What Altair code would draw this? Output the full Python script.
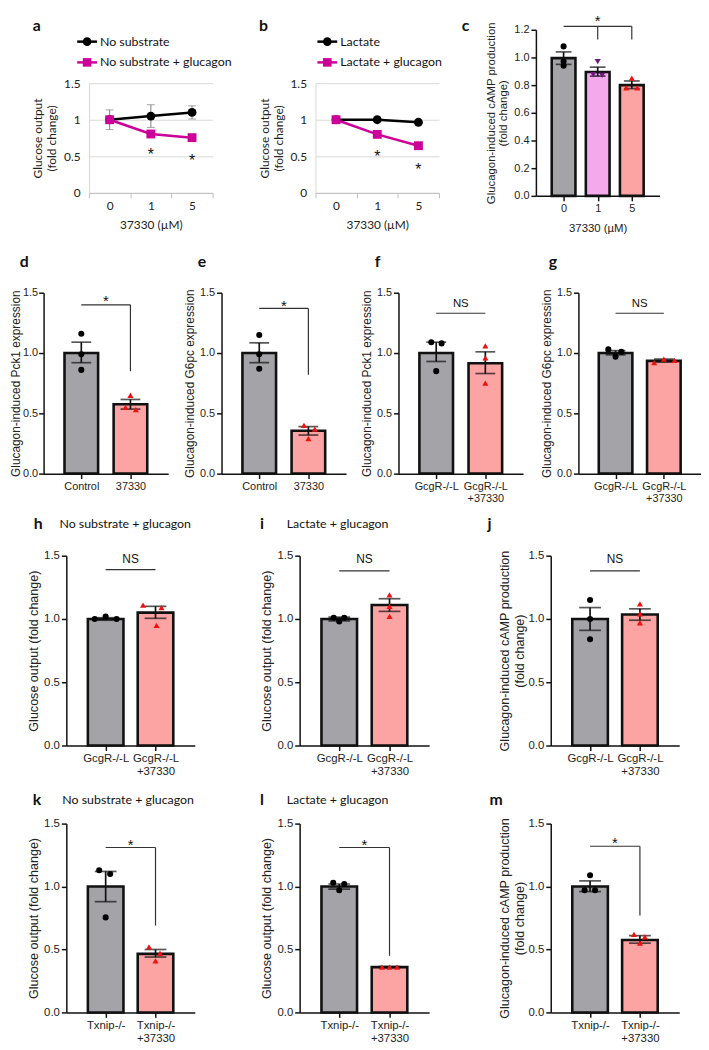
import altair as alt
import pandas as pd

ARIAL = "Liberation Sans"
CAL = "Lato"
BLACK = "#111111"
GRAY_BAR = "#a3a3a8"
SALMON = "#fca3a3"
PINK = "#f4a9ec"
RED = "#ee1111"
PURPLE = "#6b1a7b"
MAGENTA = "#cc0099"

# ---------------- data: line panels a, b ----------------
doses = ["0", "1", "5"]
a_series = ["No substrate", "No substrate + glucagon"]
a_mean_ctrl = [1.00, 1.05, 1.10]
a_err_ctrl = [0.135, 0.155, 0.09]
a_mean_glu = [1.00, 0.805, 0.755]
a_err_glu = [0.03, 0.035, 0.045]
a_star_dose = ["1", "5"]
a_star_y = [0.57, 0.49]

b_series = ["Lactate", "Lactate + glucagon"]
b_mean_ctrl = [1.00, 1.00, 0.965]
b_err_ctrl = [0.02, 0.015, 0.02]
b_mean_glu = [1.00, 0.80, 0.645]
b_err_glu = [0.02, 0.02, 0.02]
b_star_dose = ["1", "5"]
b_star_y = [0.55, 0.36]

# ---------------- data: bar panels ----------------
c_labels = [["0"], ["1"], ["5"]]
c_mean = [0.995, 0.895, 0.80]
c_lo = [0.95, 0.865, 0.775]
c_hi = [1.04, 0.93, 0.83]
c_pts = [[1.08, 0.97, 0.94], [0.97, 0.875, 0.87], [0.85, 0.78, 0.78]]
c_jit = [[0, 0, 0], [0, -0.13, 0.13], [0, -0.16, 0.16]]

ctl_labels = [["Control"], ["37330"]]
gcg_labels = [["GcgR-/-L"], ["GcgR-/-L", "+37330"]]
txn_labels = [["Txnip-/-"], ["Txnip-/-", "+37330"]]

d_mean = [1.00, 0.575]
d_lo = [0.92, 0.535]
d_hi = [1.09, 0.615]
d_pts = [[1.16, 0.99, 0.86], [0.65, 0.55, 0.53]]
d_jit = [[0, 0, 0], [0, -0.1, 0.11]]

e_mean = [1.00, 0.355]
e_lo = [0.92, 0.32]
e_hi = [1.085, 0.39]
e_pts = [[1.15, 0.99, 0.87], [0.40, 0.37, 0.29]]
e_jit = [[0, 0, 0], [-0.09, 0.13, 0]]

f_mean = [1.00, 0.915]
f_lo = [0.93, 0.83]
f_hi = [1.09, 1.01]
f_pts = [[1.09, 1.08, 0.85], [1.06, 0.96, 0.75]]
f_jit = [[-0.1, 0.11, 0], [0, 0, 0]]

g_mean = [1.00, 0.935]
g_lo = [0.985, 0.925]
g_hi = [1.02, 0.95]
g_pts = [[1.03, 1.01, 0.97], [0.92, 0.95, 0.94]]
g_jit = [[-0.15, 0.12, 0], [-0.2, 0, 0.22]]

h_mean = [1.00, 1.05]
h_lo = [0.99, 1.005]
h_hi = [1.01, 1.10]
h_pts = [[1.00, 1.02, 1.00], [1.11, 1.09, 0.95]]
h_jit = [[-0.22, 0, 0.22], [-0.25, 0.12, 0.02]]

i_mean = [1.00, 1.11]
i_lo = [0.985, 1.06]
i_hi = [1.015, 1.16]
i_pts = [[1.01, 1.01, 0.98], [1.19, 1.10, 1.02]]
i_jit = [[-0.11, 0.1, 0], [0, 0, 0]]

j_mean = [1.00, 1.035]
j_lo = [0.91, 0.99]
j_hi = [1.09, 1.08]
j_pts = [[1.15, 1.00, 0.84], [1.12, 1.04, 0.97]]
j_jit = [[0, 0, 0], [0, 0, 0]]

k_mean = [1.00, 0.465]
k_lo = [0.88, 0.44]
k_hi = [1.12, 0.50]
k_pts = [[1.13, 1.10, 0.755], [0.52, 0.47, 0.41]]
k_jit = [[-0.13, 0.09, 0], [-0.13, 0.09, 0]]

l_mean = [1.00, 0.36]
l_lo = [0.98, 0.355]
l_hi = [1.02, 0.365]
l_pts = [[1.03, 1.02, 0.97], [0.36, 0.36, 0.36]]
l_jit = [[-0.12, 0.1, 0], [-0.15, 0, 0.15]]

m_mean = [1.00, 0.575]
m_lo = [0.96, 0.55]
m_hi = [1.045, 0.61]
m_pts = [[1.09, 0.97, 0.97], [0.62, 0.60, 0.55]]
m_jit = [[0, -0.11, 0.1], [-0.12, 0.1, 0]]

ONE = pd.DataFrame({"k": [0]})


def text_at(txt, x, y, font=CAL, size=12, weight="normal", align="left"):
    return alt.Chart(ONE).mark_text(text=txt, font=font, fontSize=size, fontWeight=weight,
                                    align=align, baseline="middle", color=BLACK).encode(
        x=alt.value(x), y=alt.value(y))


def frame(w, h, L, R, T, B):
    # invisible rule fixing the panel's outer extent for the concat layout
    return alt.Chart(ONE).mark_rule(opacity=0).encode(
        x=alt.value(-L), x2=alt.value(w + R), y=alt.value(-T), y2=alt.value(h + B))


def line_panel(series, mean_c, err_c, mean_g, err_g, star_d, star_y, letter, letter_x, leg_x,
               ext, width=125, height=165, top=54):
    rows = []
    for nm, ms, es, col, shp in ((series[0], mean_c, err_c, "#000000", "circle"),
                                 (series[1], mean_g, err_g, MAGENTA, "square")):
        for d, m, e in zip(doses, ms, es):
            rows.append({"dose": d, "series": nm, "mean": m, "lo": m - e, "hi": m + e,
                         "col": col, "shp": shp})
    df = pd.DataFrame(rows)
    xs = alt.Scale(type="band", domain=doses, paddingInner=0, paddingOuter=0)
    xa = alt.Axis(title="37330 (µM)", labelAngle=0, tickBand="extent", domainColor="#bfbfbf",
                  tickColor="#bfbfbf", tickSize=5, labelFont=CAL, labelFontSize=12, labelColor="#222",
                  titleFont=CAL, titleFontSize=12, titleFontWeight="normal", titleColor="#222",
                  titlePadding=8, labelPadding=3, grid=False)
    ys = alt.Scale(domain=[0, 1.5], range=[height, top], nice=False, zero=True)
    ya = alt.Axis(values=[0, 0.5, 1, 1.5], format="~g", grid=True, gridColor="#d9d9d9",
                  domainColor="#d9d9d9", ticks=False, labelPadding=9, labelFont=CAL, labelFontSize=12,
                  labelColor="#222", title=["Glucose output", "(fold change)"], titleFont=CAL,
                  titleFontSize=12, titleFontWeight="normal", titleColor="#222", titlePadding=5,
                  titleLineHeight=14)
    X = alt.X("dose:N", scale=xs, axis=xa, sort=doses)

    def Y(f):
        return alt.Y(f, type="quantitative", scale=ys, axis=ya)

    err = alt.Chart(df).mark_rule(color="#7f7f7f", strokeWidth=1).encode(x=X, y=Y("lo"), y2=alt.Y2("hi"))
    cap1 = alt.Chart(df).mark_tick(orient="horizontal", size=8, thickness=1, color="#7f7f7f").encode(x=X, y=Y("lo"))
    cap2 = alt.Chart(df).mark_tick(orient="horizontal", size=8, thickness=1, color="#7f7f7f").encode(x=X, y=Y("hi"))
    line = alt.Chart(df).mark_line(strokeWidth=2.5).encode(
        x=X, y=Y("mean"), color=alt.Color("col:N", scale=None), detail="series:N")
    pts = alt.Chart(df).mark_point(filled=True, size=80, opacity=1).encode(
        x=X, y=Y("mean"), color=alt.Color("col:N", scale=None), shape=alt.Shape("shp:N", scale=None))
    sdf = pd.DataFrame({"dose": star_d, "y": star_y})
    stars = alt.Chart(sdf).mark_text(text="*", font=ARIAL, fontSize=16, baseline="middle", dy=4,
                                     color=BLACK).encode(x=X, y=Y("y"))
    layers = [frame(width, height, *ext), err, cap1, cap2, line, pts, stars]
    for idx, (nm, col, sh) in enumerate(zip(series, ["#000000", MAGENTA], ["circle", "square"])):
        ly = [12, 33][idx]
        layers.append(alt.Chart(ONE).mark_rule(color=col, strokeWidth=2.5).encode(
            x=alt.value(leg_x[0]), x2=alt.value(leg_x[1]), y=alt.value(ly)))
        layers.append(alt.Chart(ONE).mark_point(filled=True, shape=sh, size=75, color=col, opacity=1).encode(
            x=alt.value(leg_x[2]), y=alt.value(ly)))
        layers.append(text_at(nm, leg_x[3], ly, size=12.5))
    layers.append(text_at(letter, letter_x, -4, size=16, weight="bold"))
    return alt.layer(*layers).properties(width=width, height=height)


def bar_panel(labels, means, lo, hi, pts, jit, fills, shapes, pcolors, ytitle, ydom, yvals,
              width, height, barw, pad, hl, vl, tx, letter, letter_xy, ext, sub=None, sub_xy=None,
              xtitle=None, lab_fs=11.0, title_fs=12.0, title_pad=3, label_pad=2, title_lh=13, capw=20,
              xtitle_pad=8):
    n = len(means)
    bdf = pd.DataFrame({"pos": list(range(n)), "mean": means, "lo": lo, "hi": hi, "fill": fills})
    prow = []
    for gi in range(n):
        for v, jv in zip(pts[gi], jit[gi]):
            prow.append({"px": gi + jv, "val": v, "col": pcolors[gi], "shp": shapes[gi]})
    pdf = pd.DataFrame(prow)

    def lab(parts):
        if len(parts) == 1:
            return "'" + parts[0] + "'"
        return "[" + ",".join("'" + p + "'" for p in parts) + "]"

    expr = lab(labels[-1])
    for idx in range(n - 2, -1, -1):
        expr = f"datum.value == {idx} ? {lab(labels[idx])} : ({expr})"

    xs = alt.Scale(domain=[-pad, n - 1 + pad], nice=False, zero=False)
    xa = alt.Axis(values=list(range(n)), labelExpr=expr, grid=False, domainColor=BLACK, domainWidth=1.5,
                  tickColor=BLACK, tickWidth=1.5, tickSize=5, labelFont=ARIAL, labelFontSize=lab_fs,
                  labelColor="#222", labelPadding=2, labelAngle=0, labelLineHeight=lab_fs + 1.5,
                  labelFlush=False, labelOverlap=False,
                  titleFont=ARIAL, titleFontSize=11.5, titleFontWeight="normal", titleColor="#222",
                  titlePadding=xtitle_pad, title=xtitle)
    ys = alt.Scale(domain=ydom, nice=False, zero=True)
    ya = alt.Axis(values=yvals, format=".1f", title=ytitle, grid=False, domainColor=BLACK, domainWidth=1.5,
                  tickColor=BLACK, tickWidth=1.5, tickSize=5, labelFont=ARIAL, labelFontSize=lab_fs,
                  labelColor="#222", labelPadding=label_pad, titleFont=ARIAL, titleFontSize=title_fs,
                  titleFontWeight="normal", titleColor="#222", titlePadding=title_pad,
                  titleLineHeight=title_lh)

    def X(f):
        return alt.X(f, type="quantitative", scale=xs, axis=xa)

    def Y(f):
        return alt.Y(f, type="quantitative", scale=ys, axis=ya)

    bars = alt.Chart(bdf).mark_bar(size=barw, stroke=BLACK, strokeWidth=2.6, orient="vertical").encode(
        x=X("pos"), y=Y("mean"), fill=alt.Fill("fill:N", scale=None))
    err = alt.Chart(bdf).mark_rule(color=BLACK, strokeWidth=1.7).encode(x=X("pos"), y=Y("lo"), y2=alt.Y2("hi"))
    cap1 = alt.Chart(bdf).mark_tick(orient="horizontal", size=capw, thickness=1.7, color=BLACK).encode(
        x=X("pos"), y=Y("lo"))
    cap2 = alt.Chart(bdf).mark_tick(orient="horizontal", size=capw, thickness=1.7, color=BLACK).encode(
        x=X("pos"), y=Y("hi"))
    points = alt.Chart(pdf).mark_point(filled=True, size=38, opacity=1).encode(
        x=X("px"), y=Y("val"), shape=alt.Shape("shp:N", scale=None), color=alt.Color("col:N", scale=None))
    layers = [frame(width, height, *ext), bars, err, cap1, cap2, points]
    if hl:
        hdf = pd.DataFrame(hl, columns=["x0", "x1", "y"])
        layers.append(alt.Chart(hdf).mark_rule(color="#333333", strokeWidth=1.2).encode(
            x=X("x0"), x2=alt.X2("x1"), y=Y("y")))
    if vl:
        vdf = pd.DataFrame(vl, columns=["x", "y0", "y1"])
        layers.append(alt.Chart(vdf).mark_rule(color="#333333", strokeWidth=1.2).encode(
            x=X("x"), y=Y("y0"), y2=alt.Y2("y1")))
    for (tx_x, tx_y, t) in tx:
        tdf = pd.DataFrame({"x": [tx_x], "y": [tx_y]})
        if t == "*":
            layers.append(alt.Chart(tdf).mark_text(text="*", font=ARIAL, fontSize=15, baseline="middle",
                                                   dy=4, color=BLACK).encode(x=X("x"), y=Y("y")))
        else:
            layers.append(alt.Chart(tdf).mark_text(text=t, font=ARIAL, fontSize=lab_fs + 0.5,
                                                   baseline="middle", color=BLACK).encode(x=X("x"), y=Y("y")))
    layers.append(text_at(letter, letter_xy[0], letter_xy[1], size=16, weight="bold"))
    if sub:
        layers.append(text_at(sub, sub_xy[0], sub_xy[1], size=12.5))
    return alt.layer(*layers).properties(width=width, height=height)


def spacer(w):
    return alt.Chart(ONE).mark_rule(opacity=0).encode(
        x=alt.value(0), x2=alt.value(w), y=alt.value(0)).properties(width=w, height=1)


# ---------------- panels ----------------
# ext = (left, right, top, bottom) outer extents used by the layout
pa = line_panel(a_series, a_mean_ctrl, a_err_ctrl, a_mean_glu, a_err_glu, a_star_dose, a_star_y,
                "a", -57, [-12, 8, -2, 11], (78, 15, 12, 45))
pb = line_panel(b_series, b_mean_ctrl, b_err_ctrl, b_mean_glu, b_err_glu, b_star_dose, b_star_y,
                "b", -57, [2, 22, 12, 25], (84, 10, 12, 45))

pc = bar_panel(c_labels, c_mean, c_lo, c_hi, c_pts, c_jit, [GRAY_BAR, PINK, SALMON],
               ["circle", "triangle-down", "triangle-up"], ["#000000", PURPLE, RED],
               ["Glucagon-induced cAMP production", "(fold change)"], [0, 1.2],
               [0, 0.2, 0.4, 0.6, 0.8, 1.0, 1.2], 125, 168, 24, 0.667,
               [(0, 2, 1.225)], [(1, 1.225, 1.13), (2, 1.225, 1.13)], [(1, 1.29, "*")],
               "c", (-75, -4), (88, 10, 12, 45), xtitle="37330 (µM)", capw=16, title_pad=5,
               title_fs=11.5, xtitle_pad=9)

two_fill = [GRAY_BAR, SALMON]
two_shape = ["circle", "triangle-up"]
two_col = ["#000000", RED]
r2 = dict(height=183, barw=34, pad=0.667, capw=20, title_fs=12)

pd_ = bar_panel(ctl_labels, d_mean, d_lo, d_hi, d_pts, d_jit, two_fill, two_shape, two_col,
                "Glucagon-induced Pck1 expression", [0, 1.5], [0, 0.5, 1.0, 1.5],
                hl=[(0, 1, 1.40)], vl=[(1, 1.40, 0.85)], tx=[(0.5, 1.46, "*")],
                letter="d", letter_xy=(-24, -31), ext=(33, 10, 53, 40), width=126,
                title_pad=0, label_pad=1, **r2)
pe = bar_panel(ctl_labels, e_mean, e_lo, e_hi, e_pts, e_jit, two_fill, two_shape, two_col,
               "Glucagon-induced G6pc expression", [0, 1.5], [0, 0.5, 1.0, 1.5],
               hl=[(0, 1, 1.37)], vl=[(1, 1.37, 0.82)], tx=[(0.5, 1.42, "*")],
               letter="e", letter_xy=(-24, -31), ext=(44, 10, 53, 40), width=126, **r2)
pf = bar_panel(gcg_labels, f_mean, f_lo, f_hi, f_pts, f_jit, two_fill, two_shape, two_col,
               "Glucagon-induced Pck1 expression", [0, 1.5], [0, 0.5, 1.0, 1.5],
               hl=[(0, 1, 1.33)], vl=None, tx=[(0.5, 1.41, "NS")],
               letter="f", letter_xy=(-24, -31), ext=(43, 10, 53, 40), width=126, **r2)
pg = bar_panel(gcg_labels, g_mean, g_lo, g_hi, g_pts, g_jit, two_fill, two_shape, two_col,
               "Glucagon-induced G6pc expression", [0, 1.5], [0, 0.5, 1.0, 1.5],
               hl=[(0, 1, 1.33)], vl=None, tx=[(0.5, 1.41, "NS")],
               letter="g", letter_xy=(-30, -31), ext=(46, 0, 53, 40), width=124, **r2)

r3 = dict(barw=36, pad=0.69, capw=22, lab_fs=11.5, title_fs=12.7)
ph = bar_panel(gcg_labels, h_mean, h_lo, h_hi, h_pts, h_jit, two_fill, two_shape, two_col,
               "Glucose output (fold change)", [0, 1.5], [0, 0.5, 1.0, 1.5],
               hl=[(0, 1, 1.39)], vl=None, tx=[(0.5, 1.47, "NS")],
               letter="h", letter_xy=(-33, -32), sub="No substrate + glucagon", sub_xy=(-7, -32),
               ext=(50, 10, 43, 40), width=130, height=192, **r3)
pi = bar_panel(gcg_labels, i_mean, i_lo, i_hi, i_pts, i_jit, two_fill, two_shape, two_col,
               "Glucose output (fold change)", [0, 1.5], [0, 0.5, 1.0, 1.5],
               hl=[(0, 1, 1.38)], vl=None, tx=[(0.5, 1.47, "NS")],
               letter="i", letter_xy=(-40, -32), sub="Lactate + glucagon", sub_xy=(-13, -32),
               ext=(96, 10, 43, 40), width=131, height=192, **r3)
pj = bar_panel(gcg_labels, j_mean, j_lo, j_hi, j_pts, j_jit, two_fill, two_shape, two_col,
               ["Glucagon-induced cAMP production", "(fold change)"], [0, 1.5], [0, 0.5, 1.0, 1.5],
               hl=[(0, 1, 1.38)], vl=None, tx=[(0.5, 1.47, "NS")],
               letter="j", letter_xy=(-64, -32), ext=(113, 10, 43, 40), width=130, height=192,
               title_lh=15, title_pad=2, **r3)

pk = bar_panel(txn_labels, k_mean, k_lo, k_hi, k_pts, k_jit, two_fill, two_shape, two_col,
               "Glucose output (fold change)", [0, 1.5], [0, 0.5, 1.0, 1.5],
               hl=[(0, 1, 1.31)], vl=[(1, 1.31, 0.69)], tx=[(0.5, 1.36, "*")],
               letter="k", letter_xy=(-34, -24), sub="No substrate + glucagon", sub_xy=(-4, -24),
               ext=(50, 10, 39, 33), width=130, height=191, **r3)
pl = bar_panel(txn_labels, l_mean, l_lo, l_hi, l_pts, l_jit, two_fill, two_shape, two_col,
               "Glucose output (fold change)", [0, 1.5], [0, 0.5, 1.0, 1.5],
               hl=[(0, 1, 1.31)], vl=[(1, 1.31, 0.45)], tx=[(0.5, 1.36, "*")],
               letter="l", letter_xy=(-40, -24), sub="Lactate + glucagon", sub_xy=(-13, -24),
               ext=(96, 10, 39, 33), width=131, height=191, **r3)
pm = bar_panel(txn_labels, m_mean, m_lo, m_hi, m_pts, m_jit, two_fill, two_shape, two_col,
               ["Glucagon-induced cAMP production", "(fold change)"], [0, 1.5], [0, 0.5, 1.0, 1.5],
               hl=[(0, 1, 1.32)], vl=[(1, 1.32, 0.77)], tx=[(0.5, 1.375, "*")],
               letter="m", letter_xy=(-62, -24), ext=(113, 10, 39, 33), width=130, height=191,
               title_lh=15, title_pad=2, **r3)

row1 = alt.hconcat(spacer(4), pa, pb, pc, spacing=0)
row2 = alt.hconcat(spacer(1), pd_, pe, pf, pg, spacing=0)
row3 = alt.hconcat(spacer(9), ph, pi, pj, spacing=0)
row4 = alt.hconcat(spacer(9), pk, pl, pm, spacing=0)

chart = alt.vconcat(row1, row2, row3, row4, spacing=0).configure_view(
    stroke=None).properties(padding={"left": 0, "top": 0, "right": 0, "bottom": 0},
                            background="white")

chart.save("out.html", embed_options={"renderer": "svg", "actions": False})
